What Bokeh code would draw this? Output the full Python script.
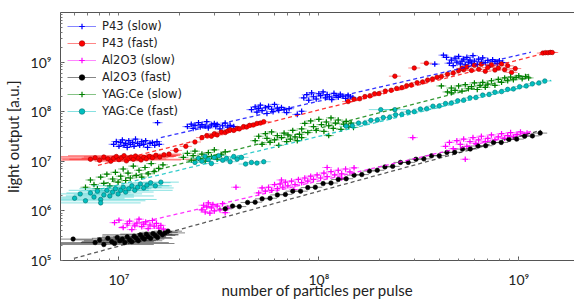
import numpy as np
from bokeh.plotting import figure
from bokeh.models import LogAxis, CustomJSTickFormatter, Legend, LegendItem, FixedTicker, Span
from bokeh.embed import file_html
from bokeh.resources import INLINE

# ---------------- data ----------------
series_names = ["P43 (slow)", "P43 (fast)", "Al2O3 (slow)", "Al2O3 (fast)", "YAG:Ce (slow)", "YAG:Ce (fast)"]

p43_slow_x = [9.4e6, 9.7e6, 1.0e7, 1.02e7, 1.04e7, 1.06e7, 1.08e7, 1.10e7, 1.12e7, 1.14e7, 1.17e7, 1.19e7,
              1.21e7, 1.24e7, 1.27e7, 1.30e7, 1.33e7, 1.36e7, 1.39e7, 1.43e7, 1.47e7, 1.51e7, 1.55e7, 1.59e7, 1.56e7,
              2.2e7, 2.3e7, 2.35e7, 2.4e7, 2.5e7, 2.55e7, 2.6e7, 2.7e7, 2.75e7, 2.8e7, 2.9e7, 3.0e7, 3.05e7, 3.1e7,
              3.2e7, 3.3e7, 3.4e7, 3.5e7, 3.6e7, 3.75e7,
              4.6e7, 4.8e7, 4.9e7, 5.0e7, 5.1e7, 5.2e7, 5.4e7, 5.5e7, 5.6e7, 5.8e7, 5.9e7, 6.0e7, 6.2e7, 6.3e7,
              6.5e7, 6.7e7, 6.9e7, 7.1e7, 7.8e7, 8.2e7,
              8.4e7, 8.7e7, 8.9e7, 9.2e7, 9.4e7, 9.7e7, 1.0e8, 1.02e8, 1.05e8, 1.08e8, 1.10e8, 1.13e8, 1.16e8,
              1.19e8, 1.22e8, 1.25e8, 1.28e8, 1.32e8, 1.36e8, 1.40e8, 1.44e8, 1.48e8,
              4.5e8, 4.6e8, 4.7e8, 4.8e8, 4.9e8, 5.0e8, 5.1e8, 5.2e8, 5.3e8, 5.4e8, 5.5e8, 5.6e8, 5.7e8, 5.8e8,
              5.9e8, 6.0e8, 6.2e8, 6.3e8, 6.5e8, 6.6e8, 6.8e8, 7.0e8, 7.2e8, 7.4e8, 7.6e8, 7.8e8, 8.0e8, 8.3e8,
              4.2e8, 3.8e8, 4.35e8]
p43_slow_y = [2.2e7, 2.5e7, 2.0e7, 2.4e7, 2.7e7, 2.1e7, 2.3e7, 1.9e7, 2.6e7, 2.2e7, 2.4e7, 2.0e7,
              2.8e7, 2.3e7, 2.1e7, 2.5e7, 2.2e7, 2.6e7, 1.9e7, 2.3e7, 2.4e7, 2.1e7, 2.5e7, 2.2e7, 6.0e7,
              5.0e7, 5.6e7, 4.6e7, 5.3e7, 6.0e7, 4.9e7, 5.5e7, 5.1e7, 6.3e7, 4.7e7, 5.4e7, 5.8e7, 5.0e7, 5.5e7,
              4.5e7, 5.2e7, 5.9e7, 4.9e7, 5.3e7, 5.0e7,
              1.10e8, 1.25e8, 9.8e7, 1.15e8, 1.35e8, 1.05e8, 1.20e8, 9.2e7, 1.28e8, 1.12e8, 1.00e8, 1.40e8,
              1.18e8, 1.06e8, 1.22e8, 1.10e8, 9.6e7, 1.15e8, 8.8e7, 1.02e8,
              1.9e8, 2.2e8, 1.7e8, 2.4e8, 2.0e8, 1.8e8, 2.3e8, 2.1e8, 2.5e8, 1.9e8, 2.2e8, 2.0e8, 1.75e8,
              2.35e8, 2.1e8, 1.95e8, 2.25e8, 2.05e8, 1.85e8, 2.15e8, 2.0e8, 1.9e8,
              9.5e8, 1.10e9, 8.5e8, 1.20e9, 1.00e9, 1.30e9, 9.2e8, 1.05e9, 1.15e9, 8.8e8, 1.25e9, 1.00e9,
              1.10e9, 9.5e8, 1.35e9, 1.05e9, 9.0e8, 1.15e9, 1.00e9, 1.22e9, 9.7e8, 1.08e9, 8.6e8, 1.12e9,
              1.02e9, 9.3e8, 1.06e9, 9.8e8, 1.38e9, 9.1e8, 1.25e9]

p43_fast_x = [7.2e6, 7.6e6, 8.0e6, 8.4e6, 8.8e6, 9.1e6, 9.4e6, 9.7e6, 1.0e7, 1.03e7, 1.06e7, 1.09e7, 1.12e7,
              1.15e7, 1.18e7, 1.21e7, 1.25e7, 1.29e7, 1.33e7, 1.37e7, 1.42e7, 1.47e7, 1.53e7, 1.60e7, 1.68e7, 1.78e7,
              1.93e7, 2.16e7, 2.4e7,
              2.6e7, 2.75e7, 2.9e7, 3.0e7, 3.1e7, 3.25e7, 3.4e7, 3.5e7, 3.6e7, 3.75e7, 3.9e7, 4.0e7, 4.2e7,
              4.35e7, 4.5e7, 4.7e7, 4.9e7, 5.1e7, 5.3e7,
              1.4e8, 1.5e8, 1.6e8, 1.7e8, 1.8e8, 1.9e8, 2.0e8, 2.15e8, 2.3e8, 2.45e8, 2.6e8, 2.75e8, 2.9e8,
              3.1e8, 3.3e8, 3.5e8, 3.7e8, 3.9e8, 4.1e8, 4.4e8, 4.7e8, 5.0e8, 5.3e8,
              5.2e8, 5.5e8, 5.8e8, 6.0e8, 6.3e8, 6.5e8, 6.8e8, 7.0e8, 7.3e8, 7.6e8, 7.9e8, 8.2e8, 8.5e8, 8.8e8,
              9.2e8, 9.6e8,
              2.4e8, 3.0e8, 3.45e8,
              1.32e9, 1.36e9, 1.40e9, 1.44e9, 1.47e9]
p43_fast_y = [1.10e7, 1.18e7, 1.05e7, 1.22e7, 1.12e7, 1.00e7, 1.15e7, 1.25e7, 1.08e7, 1.18e7, 1.30e7, 1.02e7,
              1.14e7, 1.22e7, 1.10e7, 1.28e7, 1.16e7, 1.06e7, 1.20e7, 1.12e7, 1.26e7, 1.18e7, 1.32e7, 1.22e7,
              1.35e7, 1.40e7,
              1.66e7, 2.0e7, 2.45e7,
              3.0e7, 3.3e7, 3.2e7, 3.6e7, 3.4e7, 3.9e7, 3.8e7, 4.1e7, 4.3e7, 4.2e7, 4.6e7, 4.5e7, 5.0e7,
              4.9e7, 5.3e7, 5.4e7, 5.8e7, 5.9e7, 6.3e7,
              1.6e8, 1.78e8, 1.82e8, 2.02e8, 2.08e8, 2.3e8, 2.32e8, 2.6e8, 2.7e8, 2.95e8, 3.05e8, 3.35e8, 3.45e8,
              3.85e8, 3.95e8, 4.35e8, 4.55e8, 4.95e8, 5.1e8, 5.7e8, 6.0e8, 6.7e8, 7.0e8,
              7.5e8, 8.0e8, 6.8e8, 8.6e8, 7.2e8, 9.0e8, 6.5e8, 7.8e8, 8.8e8, 6.9e8, 7.6e8, 9.2e8, 7.0e8, 8.4e8,
              6.2e8, 7.4e8,
              5.2e8, 7.6e8, 9.5e8,
              1.52e9, 1.55e9, 1.54e9, 1.57e9, 1.56e9]
# horizontal error (half width, decades) of the first low-intensity points
p43_fast_xerr = [0.14, 0.18, 0.22, 0.10, 0.25, 0.08, 0.16, 0.30, 0.09, 0.12, 0.28, 0.07, 0.14, 0.10, 0.32,
                 0.08, 0.12, 0.20, 0.06, 0.10, 0.13, 0.08, 0.11, 0.07, 0.09, 0.06]

al_slow_x = [9.5e6, 1.0e7, 1.05e7, 1.1e7, 1.13e7, 1.16e7, 1.2e7, 1.23e7, 1.26e7, 1.3e7, 1.33e7, 1.36e7, 1.4e7,
             1.43e7, 1.47e7, 1.5e7, 1.54e7, 1.58e7, 1.62e7, 1.67e7,
             2.6e7, 2.65e7, 2.7e7, 2.75e7, 2.8e7, 2.85e7, 2.9e7, 2.95e7, 3.0e7, 3.1e7, 3.2e7, 3.3e7, 3.4e7, 3.5e7,
             3.85e7,
             5.0e7, 5.2e7, 5.4e7, 5.6e7, 5.8e7, 6.0e7, 6.2e7, 6.4e7, 6.6e7, 6.8e7, 7.0e7, 7.3e7, 7.6e7, 7.9e7,
             8.2e7, 8.5e7, 8.8e7, 9.1e7, 9.4e7, 9.8e7, 1.02e8, 1.06e8, 1.10e8, 1.15e8, 1.20e8, 1.25e8, 1.30e8,
             1.36e8, 1.43e8, 1.50e8, 6.5e7, 7.5e7, 1.1e8, 1.3e8,
             4.3e8, 4.5e8, 4.7e8, 4.9e8, 5.1e8, 5.3e8, 5.5e8, 5.7e8, 5.9e8, 6.1e8, 6.3e8, 6.5e8, 6.8e8, 7.0e8,
             7.3e8, 7.6e8, 7.9e8, 8.2e8, 8.5e8, 8.8e8, 9.1e8, 9.4e8, 9.8e8, 1.02e9, 1.06e9, 1.10e9,
             2.95e8, 5.4e8]
al_slow_y = [5.8e5, 6.5e5, 4.6e5, 5.5e5, 6.2e5, 4.2e5, 5.0e5, 5.7e5, 6.8e5, 4.8e5, 5.4e5, 6.0e5, 4.4e5,
             5.2e5, 6.4e5, 4.9e5, 5.6e5, 4.5e5, 5.1e5, 4.3e5,
             1.05e6, 1.3e6, 0.95e6, 1.2e6, 1.45e6, 0.9e6, 1.15e6, 1.35e6, 1.0e6, 1.25e6, 1.05e6, 1.4e6, 0.92e6,
             1.15e6, 3.0e6,
             2.3e6, 2.9e6, 2.5e6, 3.0e6, 2.6e6, 3.4e6, 2.8e6, 3.5e6, 3.0e6, 3.8e6, 3.2e6, 4.0e6, 3.4e6, 4.3e6,
             3.7e6, 4.6e6, 4.0e6, 5.0e6, 4.3e6, 5.3e6, 4.6e6, 5.8e6, 4.9e6, 6.2e6, 5.3e6, 6.6e6, 5.6e6,
             7.0e6, 6.1e6, 7.4e6, 4.2e6, 2.7e6, 7.5e6, 4.6e6,
             2.0e7, 2.4e7, 1.8e7, 2.6e7, 2.2e7, 2.8e7, 2.0e7, 2.5e7, 3.0e7, 2.3e7, 2.7e7, 3.2e7, 2.5e7, 2.9e7,
             3.4e7, 2.7e7, 3.1e7, 3.6e7, 2.9e7, 3.3e7, 3.8e7, 3.1e7, 3.5e7, 3.9e7, 3.3e7, 3.7e7,
             3.0e7, 1.1e7]

al_fast_x = [5.9e6, 7.6e6, 8.0e6, 8.4e6, 8.8e6, 9.2e6, 9.5e6, 9.8e6, 1.01e7, 1.04e7, 1.07e7, 1.10e7, 1.13e7,
             1.16e7, 1.19e7, 1.22e7, 1.25e7, 1.28e7, 1.31e7, 1.34e7, 1.37e7, 1.40e7, 1.44e7, 1.48e7, 1.52e7,
             1.56e7, 1.60e7, 1.65e7, 1.70e7, 1.76e7,
             3.4e7, 3.7e7, 4.0e7, 4.4e7, 4.8e7, 5.2e7, 5.7e7, 6.2e7, 6.8e7, 7.4e7, 8.1e7, 8.8e7, 9.6e7,
             1.05e8, 1.15e8, 1.25e8, 1.37e8, 1.5e8, 1.64e8, 1.79e8, 1.96e8, 2.14e8, 2.34e8, 2.56e8, 2.8e8,
             3.06e8, 3.35e8, 3.66e8, 4.0e8, 4.37e8, 4.78e8, 5.23e8, 5.72e8, 6.25e8, 6.83e8, 7.47e8, 8.17e8,
             8.93e8, 9.76e8, 1.07e9, 1.17e9, 1.28e9]
al_fast_y = [2.7e5, 2.3e5, 2.6e5, 2.1e5, 2.8e5, 2.4e5, 2.2e5, 2.9e5, 2.5e5, 2.7e5, 2.3e5, 3.0e5, 2.6e5,
             2.4e5, 3.1e5, 2.8e5, 2.5e5, 3.3e5, 2.9e5, 2.7e5, 3.4e5, 3.0e5, 2.8e5, 3.5e5, 3.2e5, 2.9e5,
             3.7e5, 3.3e5, 3.6e5, 3.9e5,
             1.1e6, 1.25e6, 1.22e6, 1.48e6, 1.5e6, 1.75e6, 1.8e6, 2.1e6, 2.15e6, 2.5e6, 2.5e6, 2.95e6, 3.0e6,
             3.55e6, 3.65e6, 4.3e6, 4.45e6, 5.25e6, 5.4e6, 6.35e6, 6.6e6, 7.7e6, 7.9e6, 9.5e6, 9.5e6,
             1.10e7, 1.12e7, 1.29e7, 1.30e7, 1.51e7, 1.52e7, 1.76e7, 1.77e7, 2.03e7, 2.06e7, 2.38e7, 2.40e7,
             2.76e7, 2.80e7, 3.20e7, 3.25e7, 3.70e7]
al_fast_xerr = [0.10, 0.20, 0.12, 0.25, 0.08, 0.15, 0.30, 0.10, 0.18, 0.09, 0.22, 0.07, 0.14, 0.11, 0.16,
                0.08, 0.12, 0.19, 0.07, 0.10, 0.13, 0.09, 0.11, 0.08, 0.10, 0.07, 0.09, 0.08, 0.10, 0.07]

yag_slow_x = [6.8e6, 7.2e6, 7.5e6, 7.8e6, 8.1e6, 8.4e6, 8.7e6, 9.0e6, 9.3e6, 9.6e6, 9.9e6, 1.02e7, 1.05e7,
              1.08e7, 1.11e7, 1.14e7, 1.18e7, 1.22e7, 1.26e7, 1.30e7, 1.35e7, 1.40e7, 1.45e7, 1.50e7, 1.58e7, 1.66e7,
              2.1e7, 2.2e7, 2.3e7, 2.35e7, 2.4e7, 2.5e7, 2.6e7, 2.7e7, 2.8e7, 2.9e7, 3.0e7, 3.1e7, 3.25e7, 3.4e7,
              4.8e7, 5.0e7, 5.2e7, 5.4e7, 5.5e7, 5.7e7, 5.8e7, 6.0e7, 6.2e7, 6.3e7, 6.5e7, 6.7e7, 6.9e7, 7.0e7,
              7.2e7, 7.4e7, 7.6e7, 7.8e7, 8.0e7, 8.2e7,
              8.2e7, 8.5e7, 8.8e7, 9.1e7, 9.4e7, 9.7e7, 1.0e8, 1.03e8, 1.06e8, 1.09e8, 1.12e8, 1.15e8, 1.18e8,
              1.21e8, 1.25e8, 1.29e8, 1.33e8, 1.37e8, 1.41e8, 1.45e8, 1.49e8, 1.12e8,
              4.4e8, 4.6e8, 4.8e8, 5.0e8, 5.2e8, 5.4e8, 5.6e8, 5.8e8, 6.0e8, 6.2e8, 6.4e8, 6.6e8, 6.8e8, 7.0e8,
              7.3e8, 7.6e8, 7.9e8, 8.2e8, 8.5e8, 8.8e8, 9.1e8, 9.4e8, 9.7e8, 1.0e9, 1.04e9, 1.08e9, 1.12e9,
              4.1e8, 4.6e8]
yag_slow_y = [3.0e6, 4.2e6, 3.4e6, 2.8e6, 4.8e6, 3.6e6, 5.5e6, 3.2e6, 4.4e6, 6.0e6, 3.8e6, 5.0e6, 7.0e6,
              4.1e6, 5.8e6, 4.6e6, 8.0e6, 5.2e6, 6.6e6, 4.8e6, 7.5e6, 5.6e6, 9.0e6, 6.2e6, 7.2e6, 8.5e6,
              1.2e7, 1.45e7, 1.05e7, 1.3e7, 1.6e7, 1.15e7, 1.4e7, 1.0e7, 1.5e7, 1.25e7, 1.7e7, 1.1e7, 1.35e7, 1.55e7,
              2.6e7, 3.2e7, 2.2e7, 3.6e7, 2.9e7, 2.4e7, 3.9e7, 2.7e7, 3.3e7, 2.1e7, 3.0e7, 3.7e7, 2.5e7, 3.4e7,
              2.8e7, 4.2e7, 3.1e7, 2.6e7, 3.5e7, 3.0e7,
              4.5e7, 5.8e7, 3.8e7, 6.5e7, 5.0e7, 4.2e7, 7.0e7, 5.5e7, 4.0e7, 6.2e7, 5.2e7, 7.5e7, 4.6e7,
              5.9e7, 6.8e7, 4.4e7, 5.6e7, 6.4e7, 5.0e7, 5.9e7, 4.8e7, 3.3e7,
              2.5e8, 3.0e8, 2.7e8, 3.3e8, 2.6e8, 3.5e8, 2.9e8, 3.2e8, 3.8e8, 2.8e8, 3.4e8, 3.9e8, 3.1e8, 3.6e8,
              4.2e8, 3.4e8, 4.5e8, 3.9e8, 4.8e8, 4.2e8, 5.0e8, 4.4e8, 4.9e8, 5.3e8, 4.6e8, 5.1e8, 4.8e8,
              3.3e8, 2.4e8]

yag_fast_x = [6.0e6, 6.4e6, 6.8e6, 7.2e6, 7.5e6, 7.8e6, 8.1e6, 8.4e6, 8.7e6, 9.0e6, 9.3e6, 9.6e6, 9.9e6,
              1.02e7, 1.05e7, 1.08e7, 1.12e7, 1.16e7, 1.20e7, 1.24e7, 1.28e7, 1.33e7, 1.38e7, 1.44e7, 1.52e7,
              1.62e7, 8.1e6,
              2.4e7, 2.5e7, 2.6e7, 2.7e7, 2.8e7, 2.9e7, 3.0e7, 3.15e7, 3.3e7, 3.45e7, 3.6e7, 3.75e7, 3.9e7,
              4.1e7, 4.3e7, 4.6e7, 4.9e7, 5.3e7,
              1.37e8, 1.47e8, 1.58e8, 1.7e8, 1.82e8, 1.96e8, 2.1e8, 2.26e8, 2.42e8, 2.6e8, 2.8e8, 3.0e8, 3.22e8,
              3.46e8, 3.72e8, 4.0e8, 4.3e8, 4.6e8, 4.95e8, 5.3e8, 5.7e8, 6.1e8, 6.6e8, 7.1e8, 7.6e8, 8.2e8,
              8.8e8, 9.4e8, 1.01e9, 1.09e9, 1.17e9, 1.26e9, 1.35e9,
              2.04e8, 2.4e8]
yag_fast_y = [1.8e6, 2.2e6, 1.6e6, 2.3e6, 1.9e6, 2.5e6, 1.7e6, 2.1e6, 2.6e6, 2.0e6, 2.4e6, 2.8e6, 2.2e6,
              2.6e6, 3.0e6, 2.4e6, 2.8e6, 3.2e6, 2.6e6, 3.0e6, 3.5e6, 2.9e6, 3.3e6, 3.7e6, 3.2e6, 3.8e6, 1.45e6,
              9.5e6, 1.15e7, 1.0e7, 1.25e7, 1.08e7, 9.0e6, 1.2e7, 1.3e7, 1.05e7, 1.15e7, 9.8e6, 1.25e7, 1.1e7,
              1.2e7, 8.8e6, 9.5e6, 9.2e6, 9.8e6,
              5.1e7, 5.2e7, 5.9e7, 5.9e7, 6.7e7, 6.8e7, 7.6e7, 7.7e7, 8.7e7, 8.8e7, 9.9e7, 1.0e8, 1.13e8,
              1.14e8, 1.29e8, 1.30e8, 1.46e8, 1.49e8, 1.66e8, 1.70e8, 1.90e8, 1.93e8, 2.16e8, 2.22e8, 2.47e8,
              2.54e8, 2.82e8, 2.87e8, 3.20e8, 3.30e8, 3.66e8, 3.78e8, 4.16e8,
              1.1e8, 1.1e8]
yag_fast_xerr = [0.25, 0.10, 0.30, 0.12, 0.20, 0.08, 0.28, 0.15, 0.10, 0.22, 0.09, 0.18, 0.12, 0.26, 0.08,
                 0.14, 0.10, 0.20, 0.07, 0.12, 0.09, 0.15, 0.08, 0.10, 0.07, 0.09, 0.20]
yag_fast_xerr_tail = [0.06, 0.06]   # the two isolated points near 2e8

# power-law fits (dashed lines): endpoints
fit_p43_slow_x, fit_p43_slow_y = [1.62e7, 1.15e9], [3.0e7, 1.58e9]
fit_p43_fast_x, fit_p43_fast_y = [7.85e6, 1.36e9], [8.3e6, 1.51e9]
fit_al_slow_x, fit_al_slow_y = [1.0e7, 1.15e9], [4.6e5, 4.0e7]
fit_al_fast_x, fit_al_fast_y = [5.95e6, 1.29e9], [1.1e5, 4.2e7]
fit_yag_slow_x, fit_yag_slow_y = [8.5e6, 1.15e9], [3.6e6, 5.75e8]
fit_yag_fast_x, fit_yag_fast_y = [8.1e6, 1.45e9], [2.75e6, 4.3e8]

colors = ["#0000ff", "#ff0000", "#ff00ff", "#000000", "#008000", "#00bfbf"]
edges = ["#0000ff", "#a00000", "#ff00ff", "#000000", "#008000", "#007070"]
markers = ["cross", "circle", "cross", "circle", "cross", "circle"]

Y_TOP = 0.999e10

# ---------------- figure ----------------
p = figure(width=574, height=301, x_axis_type="log", y_axis_type="log",
           x_range=(5.1e6, 1.9e9), y_range=(1e5, Y_TOP),
           output_backend="svg", toolbar_location=None,
           min_border_left=60, min_border_right=0, min_border_top=12, min_border_bottom=0)
p.outline_line_color = None
p.grid.visible = False
p.background_fill_color = "white"

fmt_code = """
const sup = {'0':'\u2070','1':'\u00b9','2':'\u00b2','3':'\u00b3','4':'\u2074','5':'\u2075','6':'\u2076','7':'\u2077','8':'\u2078','9':'\u2079','-':'\u207b'};
const e = Math.round(Math.log10(tick));
return '10' + String(e).split('').map(c => sup[c]).join('');
"""


def style_axis(ax):
    ax.axis_line_color = "#555555"
    ax.major_tick_line_color = "#555555"
    ax.minor_tick_line_color = "#777777"
    ax.major_tick_in = 4
    ax.major_tick_out = 0
    ax.minor_tick_in = 2
    ax.minor_tick_out = 0
    ax.major_label_text_font = "Lato"
    ax.major_label_text_font_size = "14px"
    ax.major_label_text_color = "#222222"
    ax.axis_label_text_font = "Lato"
    ax.axis_label_text_font_size = "15px"
    ax.axis_label_text_font_style = "normal"
    ax.axis_label_text_color = "#222222"


for ax in (p.xaxis[0], p.yaxis[0]):
    style_axis(ax)
    ax.formatter = CustomJSTickFormatter(code=fmt_code)
p.xaxis.axis_label = "number of particles per pulse"
p.yaxis.axis_label = "light output [a.u.]"
p.xaxis.major_label_standoff = 10
p.xaxis.axis_label_standoff = -10
p.yaxis.major_label_standoff = 9
p.yaxis.axis_label_standoff = 6

# top border with inward ticks (no labels)
top_minor = [k * 10.0 ** e for e in range(6, 10) for k in range(1, 10)]
top = LogAxis(ticker=FixedTicker(ticks=[], minor_ticks=top_minor))
style_axis(top)
top.minor_tick_in = 3
top.axis_label = None
p.add_layout(top, "above")
p.add_layout(Span(location=Y_TOP, dimension="width", line_color="#555555", line_width=1))


def draw(xs, ys, i, xerr_first=None, xerr_tail=None, dx_default=0.025):
    x = np.array(xs, dtype=float)
    y = np.array(ys, dtype=float)
    dx = np.full(len(x), dx_default)
    if xerr_first is not None:
        dx[:len(xerr_first)] = xerr_first
    if xerr_tail is not None:
        dx[len(x) - len(xerr_tail):] = xerr_tail
    dy = np.full(len(x), 0.035)
    c = colors[i]
    xe = p.segment(x0=x * 10 ** -dx, y0=y, x1=x * 10 ** dx, y1=y, line_color=c, line_width=0.8, line_alpha=0.6)
    p.segment(x0=x, y0=y * 10 ** -dy, x1=x, y1=y * 10 ** dy, line_color=c, line_width=0.8, line_alpha=0.6)
    if markers[i] == "cross":
        r = p.scatter(x, y, marker="cross", size=5.5, line_color=c, line_width=1.2)
    else:
        r = p.scatter(x, y, marker="circle", size=4.5, fill_color=c, line_color=edges[i], line_width=0.6)
    return [xe, r]


rends = []
rends.append(draw(p43_slow_x, p43_slow_y, 0))
rends.append(draw(p43_fast_x, p43_fast_y, 1, xerr_first=p43_fast_xerr, dx_default=0.03))
rends.append(draw(al_slow_x, al_slow_y, 2))
rends.append(draw(al_fast_x, al_fast_y, 3, xerr_first=al_fast_xerr, dx_default=0.035))
rends.append(draw(yag_slow_x, yag_slow_y, 4))
rends.append(draw(yag_fast_x, yag_fast_y, 5, xerr_first=yag_fast_xerr, xerr_tail=yag_fast_xerr_tail,
                  dx_default=0.035))

fits = [(fit_p43_slow_x, fit_p43_slow_y), (fit_p43_fast_x, fit_p43_fast_y), (fit_al_slow_x, fit_al_slow_y),
        (fit_al_fast_x, fit_al_fast_y), (fit_yag_slow_x, fit_yag_slow_y), (fit_yag_fast_x, fit_yag_fast_y)]
for i, (fx, fy) in enumerate(fits):
    p.line(fx, fy, line_color=colors[i], line_width=1.3, line_dash="4 3",
           line_alpha=0.8 if i != 3 else 0.65)

items = [LegendItem(label=series_names[i], renderers=rends[i]) for i in range(6)]
legend = Legend(items=items, location="top_left", margin=7, padding=5, spacing=3,
                glyph_width=29, glyph_height=14, label_standoff=6,
                label_text_font="DejaVu Sans", label_text_font_size="11.5px",
                label_text_color="#222222", border_line_color=None, background_fill_alpha=0)
p.add_layout(legend)

open("out.html", "w").write(file_html(p, INLINE))
